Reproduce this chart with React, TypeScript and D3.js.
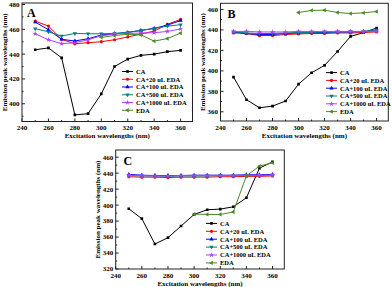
import React from 'react';
import * as d3 from 'd3';

// excitation wavelengths (nm)
const waves = [250, 260, 270, 280, 290, 300, 310, 320, 330, 340, 350, 360];
const edaWaves = [300, 310, 320, 330, 340, 350, 360];
const xTicks = [240, 260, 280, 300, 320, 340, 360];

const seriesNames = ['CA', 'CA+20 uL EDA', 'CA+100 uL EDA', 'CA+500 uL EDA', 'CA+1000 uL EDA', ' EDA'];
const colors = ['#000000', '#ff0000', '#0000ff', '#008080', '#b040ff', '#4a8a26'];

// panel A
const aCA = [443.5, 445, 437, 391, 392, 408, 430, 436, 439, 440, 442, 443];
const a20 = [466.6, 462.6, 451.9, 448.4, 449.2, 450, 451.6, 453.8, 456.2, 458.6, 464, 468];
const a100 = [465.8, 459.7, 451.9, 450.6, 452.4, 455.4, 456.4, 457.5, 459.1, 460.7, 463.4, 467];
const a500 = [460.5, 458, 454.6, 456.7, 456.4, 456.4, 456.7, 457.5, 459.1, 460.7, 462.6, 463.7];
const a1000 = [456.4, 451.6, 448.4, 449.2, 451.6, 454.8, 456.2, 456.7, 457, 457.2, 458.3, 460.2];
const aEDA = [453.5, 455, 456, 455.5, 450.5, 452.5, 457];
const aYTicks = [400, 420, 440, 460, 480];

// panel B
const bCA = [393.9, 371.8, 363.9, 365.6, 370.5, 387, 398.1, 405.4, 418.9, 433.7, 437.3, 441.9];
const b20 = [437, 436.5, 434.5, 434.5, 435.5, 436, 436.5, 436.5, 437, 437, 437.5, 438];
const b100 = [438, 436.5, 435.5, 435.5, 436.5, 437, 437.5, 437.5, 438, 438, 438.5, 439];
const b500 = [438, 437, 436.5, 436.5, 437, 437.5, 437.5, 438, 438, 438.5, 438.5, 440];
const b1000 = [438.5, 438.5, 438, 438, 438, 438.5, 438.5, 438.5, 438.5, 438.5, 438.5, 438.5];
const bEDA = [457, 459, 459.3, 457, 456, 456.7, 458];
const bYTicks = [360, 380, 400, 420, 440, 460];

// panel C
const cCA = [395.4, 383, 351.3, 359.2, 373.8, 388.3, 394.2, 395, 397.9, 409.2, 446.3, 454.2];
const c20 = [435.5, 435, 435, 434.5, 435, 435, 435, 435.5, 435.5, 436, 436, 436.5];
const c100 = [438.5, 437.5, 437, 437, 437, 437.5, 437.5, 437.5, 437.5, 438, 438, 438.5];
const c500 = [437, 436.5, 436.5, 436, 436.5, 436.5, 436.5, 437, 437, 437, 437, 437.5];
const c1000 = [437.5, 437, 436.5, 436.5, 437, 437, 437, 437, 437, 437, 437.5, 437.5];
const cEDA = [388.7, 388.3, 388.3, 391.3, 436.7, 448.8, 453];
const cYTicks = [320, 340, 360, 380, 400, 420, 440, 460];

const font = '"Liberation Serif", "Times New Roman", serif';

// marker shape per series
const symbols = [d3.symbolSquare, d3.symbolCircle, d3.symbolTriangle, d3.symbolTriangle, d3.symbolStar, d3.symbolTriangle];
const rotations = [0, 0, 0, 180, 0, -90];

function markerPath(i: number) {
  return d3.symbol().type(symbols[i]).size(i === 0 ? 7 : 8)() as string;
}

type PanelProps = {
  letter: string;
  left: number; top: number; right: number; bottom: number;
  yDomain: [number, number];
  yTicks: number[];
  series: number[][];
  legendX: number; legendY: number; legendStep: number;
  letterX: number; letterY: number;
};

function Panel(p: PanelProps) {
  const x = d3.scaleLinear().domain([240, 369]).range([p.left, p.right]);
  const y = d3.scaleLinear().domain(p.yDomain).range([p.bottom, p.top]);
  const line = d3.line<[number, number]>().x(d => x(d[0])).y(d => y(d[1]));
  const minorX = d3.range(250, 361, 20);
  const minorY = p.yTicks.map(t => t + 10).filter(t => t < p.yDomain[1]);
  if (p.yTicks[0] - 10 > p.yDomain[0]) minorY.push(p.yTicks[0] - 10);

  return (
    <g>
      <defs>
        <clipPath id={'clip' + p.letter}>
          <rect x={p.left} y={p.top} width={p.right - p.left} height={p.bottom - p.top} />
        </clipPath>
      </defs>
      <g clipPath={`url(#clip${p.letter})`}>
        {p.series.map((vals, i) => {
          const xs = i === 5 ? edaWaves : waves;
          const pts = xs.map((w, j) => [w, vals[j]] as [number, number]);
          return (
            <g key={i}>
              <path d={line(pts) as string} fill="none" stroke={colors[i]} strokeWidth={1} />
              {pts.map((d, j) => (
                <path key={j} d={markerPath(i)} fill={colors[i]}
                  transform={`translate(${x(d[0])},${y(d[1])}) rotate(${rotations[i]})`} />
              ))}
            </g>
          );
        })}
      </g>
      <rect x={p.left} y={p.top} width={p.right - p.left} height={p.bottom - p.top}
        fill="none" stroke="#222" strokeWidth={1} />
      {xTicks.map(t => (
        <g key={'x' + t}>
          <line x1={x(t)} x2={x(t)} y1={p.bottom} y2={p.bottom - 3} stroke="#222" />
          <text x={x(t)} y={p.bottom + 8.5} textAnchor="middle" fontSize={7} fontWeight="bold">{t}</text>
        </g>
      ))}
      {minorX.map(t => (
        <line key={'mx' + t} x1={x(t)} x2={x(t)} y1={p.bottom} y2={p.bottom - 1.5} stroke="#222" />
      ))}
      {p.yTicks.map(t => (
        <g key={'y' + t}>
          <line x1={p.left} x2={p.left + 3} y1={y(t)} y2={y(t)} stroke="#222" />
          <text x={p.left - 2.5} y={y(t) + 2.4} textAnchor="end" fontSize={7} fontWeight="bold">{t}</text>
        </g>
      ))}
      {minorY.map(t => (
        <line key={'my' + t} x1={p.left} x2={p.left + 1.5} y1={y(t)} y2={y(t)} stroke="#222" />
      ))}
      <text x={(p.left + p.right) / 2} y={p.bottom + 16.5} textAnchor="middle" fontSize={7} fontWeight="bold">
        Excitation wavelengths (nm)
      </text>
      <text transform={`translate(${p.left - 15.5},${(p.top + p.bottom) / 2}) rotate(-90)`}
        textAnchor="middle" fontSize={7} fontWeight="bold">
        Emission peak wavelengths (nm)
      </text>
      <text x={p.letterX} y={p.letterY} fontSize={12} fontWeight="bold">{p.letter}</text>
      {seriesNames.map((name, i) => {
        const ly = p.legendY + i * p.legendStep;
        return (
          <g key={'l' + i}>
            <line x1={p.legendX} x2={p.legendX + 11} y1={ly} y2={ly} stroke={colors[i]} strokeWidth={1} />
            <path d={markerPath(i)} fill={colors[i]}
              transform={`translate(${p.legendX + 5.5},${ly}) rotate(${rotations[i]})`} />
            <text x={p.legendX + 14} y={ly + 2.3} fontSize={6.5} fontWeight="bold">{name}</text>
          </g>
        );
      })}
    </g>
  );
}

export default function App() {
  return (
    <svg width={392} height={287} style={{ display: 'block', position: 'absolute', left: 0, top: 0, background: '#fff' }}
      fontFamily={font}>
      <Panel letter="A" left={22} top={3} right={192.5} bottom={121.5} yDomain={[385.7, 481.2]} yTicks={aYTicks}
        series={[aCA, a20, a100, a500, a1000, aEDA]} legendX={122} legendY={71.5} legendStep={7.75}
        letterX={27} letterY={17} />
      <Panel letter="B" left={220.5} top={3.3} right={388.3} bottom={121} yDomain={[351, 466]} yTicks={bYTicks}
        series={[bCA, b20, b100, b500, b1000, bEDA]} legendX={326} legendY={72.6} legendStep={7.8}
        letterX={227.5} letterY={18} />
      <Panel letter="C" left={115.7} top={150} right={284.3} bottom={269} yDomain={[320, 469]} yTicks={cYTicks}
        series={[cCA, c20, c100, c500, c1000, cEDA]} legendX={206} legendY={223.4} legendStep={7.9}
        letterX={123.5} letterY={165} />
    </svg>
  );
}
